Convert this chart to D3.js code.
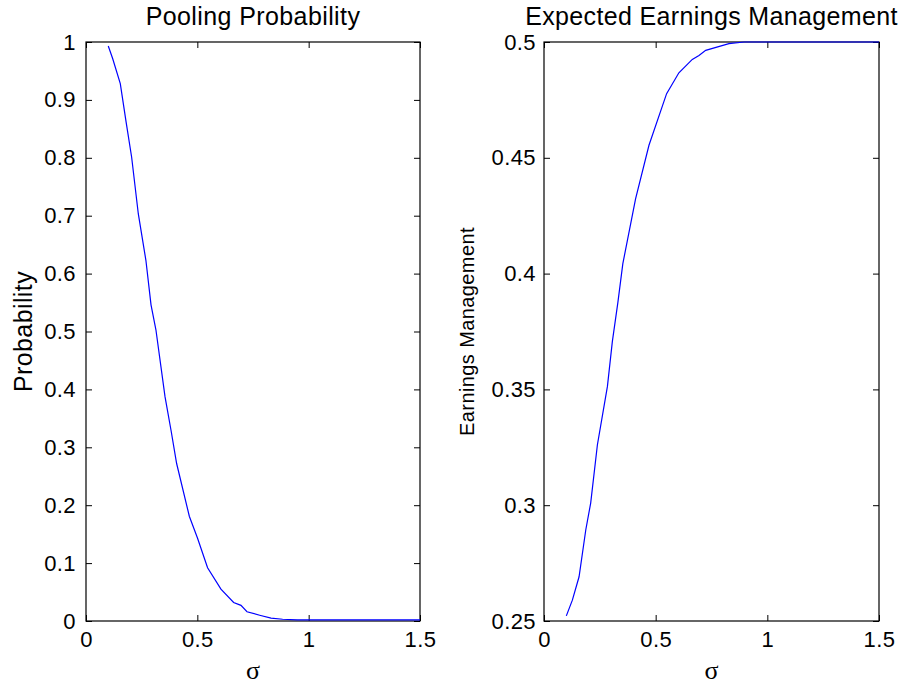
<!DOCTYPE html>
<html>
<head>
<meta charset="utf-8">
<script src="https://cdn.jsdelivr.net/npm/d3@7/dist/d3.min.js"></script>
<style>
  html, body { margin: 0; padding: 0; background: #fff; }
  svg { display: block; }
  text { font-family: "Liberation Sans", Arial, Helvetica, sans-serif; fill: #000; }
</style>
</head>
<body>
<svg id="chart" width="901" height="685"></svg>
<script>
// ---- Data ----
const poolSigma = [0.1, 0.12, 0.154, 0.18, 0.205, 0.235, 0.269, 0.292, 0.314, 0.355, 0.382, 0.407, 0.464, 0.501, 0.546, 0.606, 0.663, 0.696, 0.723, 0.78, 0.831, 0.883, 0.95, 1.0, 1.1, 1.2, 1.3, 1.4, 1.5];
const poolProb  = [0.993, 0.971, 0.928, 0.862, 0.801, 0.703, 0.623, 0.546, 0.503, 0.387, 0.329, 0.272, 0.181, 0.143, 0.092, 0.055, 0.032, 0.027, 0.016, 0.010, 0.005, 0.003, 0.002, 0.002, 0.002, 0.002, 0.002, 0.002, 0.002];

const emSigma = [0.1, 0.127, 0.157, 0.187, 0.209, 0.239, 0.284, 0.306, 0.331, 0.353, 0.41, 0.47, 0.549, 0.604, 0.664, 0.694, 0.724, 0.828, 0.896, 1.0, 1.2, 1.5];
const emValue = [0.2522, 0.259, 0.2691, 0.2893, 0.3009, 0.326, 0.3513, 0.3706, 0.3877, 0.4043, 0.4323, 0.4554, 0.4777, 0.4867, 0.4925, 0.4942, 0.4964, 0.4993, 0.5, 0.5, 0.5, 0.5];

const xTicks = [0, 0.5, 1, 1.5];
const poolYTicks = [0, 0.1, 0.2, 0.3, 0.4, 0.5, 0.6, 0.7, 0.8, 0.9, 1];
const emYTicks = [0.25, 0.3, 0.35, 0.4, 0.45, 0.5];

const titles = ["Pooling Probability", "Expected Earnings Management"];
const yLabels = ["Probability", "Earnings Management"];
const xLabel = "σ";

// ---- Layout ----
const svg = d3.select("#chart");
const panels = [
  { x0: 86, x1: 420, y0: 42, y1: 621, xs: poolSigma, ys: poolProb, yDom: [0, 1], yTicks: poolYTicks,
    title: titles[0], titleLS: 0.4, ylab: yLabels[0], ylabX: 32, ylabSize: 25, yPad: 10 },
  { x0: 544, x1: 879, y0: 42, y1: 621, xs: emSigma, ys: emValue, yDom: [0.25, 0.5], yTicks: emYTicks,
    title: titles[1], titleLS: 0.35, ylab: yLabels[1], ylabX: 474, ylabSize: 20, yPad: 8 }
];

const fmt = d3.format("~g");
const tickLen = 6;

panels.forEach(p => {
  const x = d3.scaleLinear().domain([0, 1.5]).range([p.x0, p.x1]);
  const y = d3.scaleLinear().domain(p.yDom).range([p.y1, p.y0]);
  const g = svg.append("g");

  g.append("rect")
    .attr("x", p.x0).attr("y", p.y0)
    .attr("width", p.x1 - p.x0).attr("height", p.y1 - p.y0)
    .attr("fill", "none").attr("stroke", "#000").attr("stroke-width", 1.2);

  const bx = g.append("g").attr("transform", `translate(0,${p.y1})`)
    .call(d3.axisBottom(x).tickValues(xTicks).tickFormat(fmt).tickSizeInner(-tickLen).tickSizeOuter(0).tickPadding(10));
  const tx = g.append("g").attr("transform", `translate(0,${p.y0})`)
    .call(d3.axisTop(x).tickValues(xTicks).tickFormat("").tickSizeInner(-tickLen).tickSizeOuter(0));
  const ly = g.append("g").attr("transform", `translate(${p.x0},0)`)
    .call(d3.axisLeft(y).tickValues(p.yTicks).tickFormat(fmt).tickSizeInner(-tickLen).tickSizeOuter(0).tickPadding(p.yPad));
  const ry = g.append("g").attr("transform", `translate(${p.x1},0)`)
    .call(d3.axisRight(y).tickValues(p.yTicks).tickFormat("").tickSizeInner(-tickLen).tickSizeOuter(0));

  [bx, tx, ly, ry].forEach(a => {
    a.select(".domain").remove();
    a.selectAll(".tick line").attr("stroke", "#000").attr("stroke-width", 1);
    a.selectAll(".tick text")
      .style("font-family", '"Liberation Sans", Arial, sans-serif')
      .style("font-size", "22px")
      .style("letter-spacing", "0.4px")
      .attr("fill", "#000");
  });

  const line = d3.line().x((d, i) => x(p.xs[i])).y(d => y(d));
  g.append("path")
    .datum(p.ys)
    .attr("d", line)
    .attr("fill", "none")
    .attr("stroke", "#0000ff")
    .attr("stroke-width", 1.2);

  g.append("text")
    .attr("x", (p.x0 + p.x1) / 2).attr("y", 25)
    .attr("text-anchor", "middle")
    .style("font-size", "25px")
    .style("letter-spacing", p.titleLS + "px")
    .text(p.title);

  g.append("text")
    .attr("x", (p.x0 + p.x1) / 2).attr("y", 679)
    .attr("text-anchor", "middle")
    .style("font-family", '"Liberation Serif", "Times New Roman", serif')
    .style("font-size", "26px")
    .text(xLabel);

  g.append("text")
    .attr("transform", `translate(${p.ylabX},${(p.y0 + p.y1) / 2}) rotate(-90)`)
    .attr("text-anchor", "middle")
    .style("font-size", p.ylabSize + "px")
    .style("letter-spacing", "0.4px")
    .text(p.ylab);
});
</script>
</body>
</html>
